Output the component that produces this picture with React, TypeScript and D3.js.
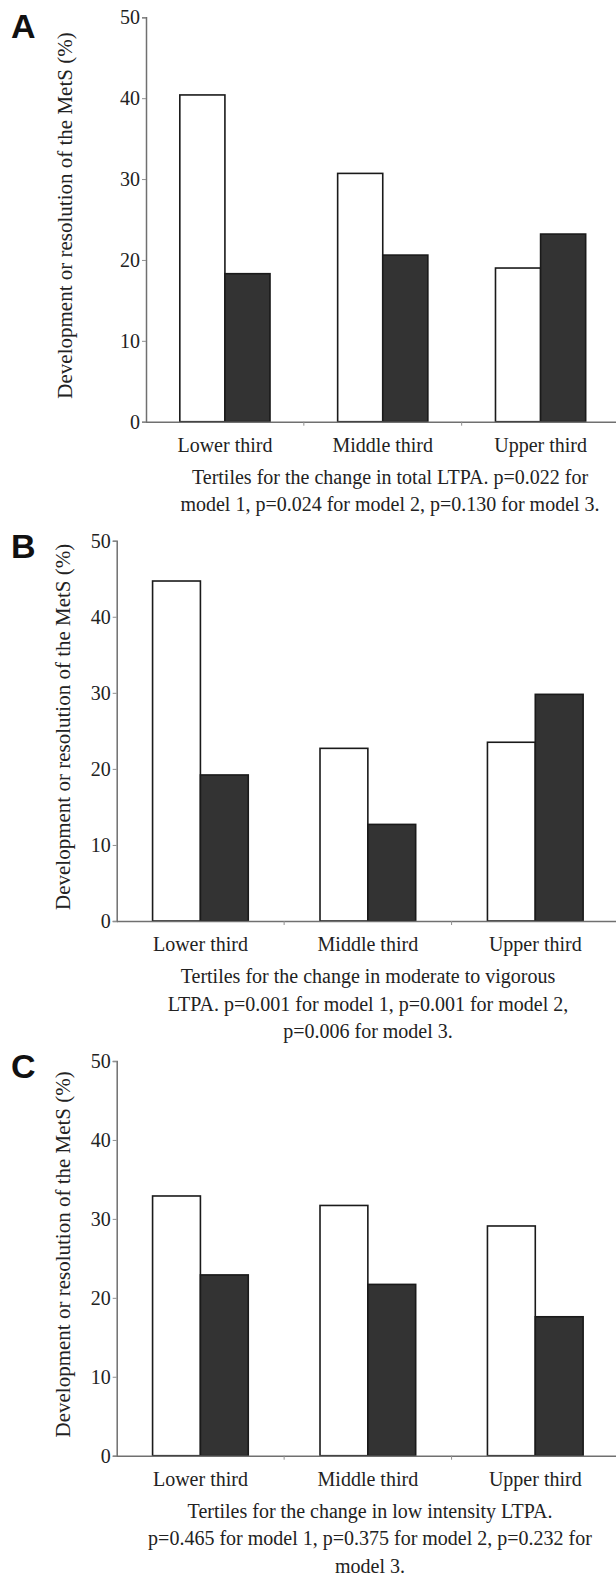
import React, { useEffect, useRef } from 'react';
import * as d3 from 'd3';

const categories = ['Lower third', 'Middle third', 'Upper third'];
const seriesKeys = ['open', 'filled'];
const yTicks = [0, 10, 20, 30, 40, 50];

const openA = [40.4, 30.7, 19.0];
const filledA = [18.3, 20.6, 23.2];
const openB = [44.7, 22.7, 23.5];
const filledB = [19.2, 12.7, 29.8];
const openC = [32.9, 31.7, 29.1];
const filledC = [22.9, 21.7, 17.6];

const yTitle = 'Development or resolution of the MetS (%)';
const captionA = [
  'Tertiles for the change in total LTPA. p=0.022 for',
  'model 1, p=0.024 for model 2, p=0.130 for model 3.',
];
const captionB = [
  'Tertiles for the change in moderate to vigorous',
  'LTPA. p=0.001 for model 1, p=0.001 for model 2,',
  'p=0.006 for model 3.',
];
const captionC = [
  'Tertiles for the change in low intensity LTPA.',
  'p=0.465 for model 1, p=0.375 for model 2, p=0.232 for',
  'model 3.',
];

const W = 616;
const H = 1576;
const serif = '"Liberation Serif", "Times New Roman", serif';

// where each panel sits on the page
const panels = [
  { letter: 'A', open: openA, filled: filledA, caption: captionA,
    left: 146, right: 619.5, top: 17.3, bottom: 421.7, letterY: 38, titleX: 65, capX: 390 },
  { letter: 'B', open: openB, filled: filledB, caption: captionB,
    left: 116.7, right: 619, top: 540.7, bottom: 921, letterY: 558, titleX: 63, capX: 368 },
  { letter: 'C', open: openC, filled: filledC, caption: captionC,
    left: 116.7, right: 619, top: 1061, bottom: 1455.7, letterY: 1078, titleX: 63, capX: 370 },
];

const App = () => {
  const svgRef = useRef(null);

  useEffect(() => {
    document.body.style.margin = '0';
    const svg = d3.select(svgRef.current);
    svg.selectAll('*').remove();
    svg.append('rect').attr('width', W).attr('height', H).attr('fill', '#fff');

    panels.forEach(p => {
      const g = svg.append('g');

      const x0 = d3.scaleBand()
        .domain(categories)
        .range([p.left, p.right])
        .padding(0);

      const x1 = d3.scaleBand()
        .domain(seriesKeys)
        .range([0, x0.bandwidth()])
        .paddingInner(0)
        .paddingOuter(0.75);

      const y = d3.scaleLinear()
        .domain([0, 50])
        .range([p.bottom, p.top]);

      const data = categories.map((c, i) => ({ cat: c, open: p.open[i], filled: p.filled[i] }));

      // bars
      g.append('g')
        .selectAll('g')
        .data(data)
        .enter()
        .append('g')
        .attr('transform', d => `translate(${x0(d.cat)},0)`)
        .selectAll('rect')
        .data(d => seriesKeys.map(key => ({ key, value: d[key] })))
        .enter()
        .append('rect')
        .attr('x', d => x1(d.key))
        .attr('y', d => y(d.value))
        .attr('width', x1.bandwidth())
        .attr('height', d => y(0) - y(d.value))
        .attr('fill', d => (d.key === 'open' ? '#ffffff' : '#333333'))
        .attr('stroke', '#1a1a1a')
        .attr('stroke-width', 1.6);

      // y axis
      const yAxis = g.append('g')
        .attr('transform', `translate(${p.left},0)`)
        .call(d3.axisLeft(y).tickValues(yTicks).tickSize(4).tickPadding(2).tickFormat(d3.format('d')));
      yAxis.select('.domain').attr('stroke', '#707070').attr('stroke-width', 1.5);
      yAxis.selectAll('.tick line').attr('stroke', '#909090').attr('stroke-width', 1);
      yAxis.selectAll('.tick text')
        .attr('font-family', serif)
        .attr('font-size', 20)
        .attr('fill', '#222');

      // x axis
      const xAxis = g.append('g')
        .attr('transform', `translate(0,${p.bottom})`)
        .call(d3.axisBottom(x0).tickSize(0).tickPadding(16));
      xAxis.select('.domain').attr('stroke', '#707070').attr('stroke-width', 1.5);
      xAxis.selectAll('.tick text')
        .attr('font-family', serif)
        .attr('font-size', 20)
        .attr('fill', '#222');
      // small ticks between categories
      g.append('g')
        .selectAll('line')
        .data(categories.slice(1))
        .enter()
        .append('line')
        .attr('x1', d => x0(d))
        .attr('x2', d => x0(d))
        .attr('y1', p.bottom)
        .attr('y2', p.bottom + 4)
        .attr('stroke', '#909090')
        .attr('stroke-width', 1);

      // axis title
      g.append('text')
        .attr('transform', `translate(${p.titleX},${(p.top + p.bottom) / 2 - 4}) rotate(-90)`)
        .attr('text-anchor', 'middle')
        .attr('dominant-baseline', 'central')
        .attr('font-family', serif)
        .attr('font-size', 21)
        .attr('fill', '#222')
        .text(yTitle);

      // panel letter
      g.append('text')
        .attr('x', 11)
        .attr('y', p.letterY)
        .attr('font-family', '"Liberation Sans", Arial, sans-serif')
        .attr('font-weight', 'bold')
        .attr('font-size', 34)
        .attr('fill', '#111')
        .text(p.letter);

      // caption under the axis
      g.append('g')
        .selectAll('text')
        .data(p.caption)
        .enter()
        .append('text')
        .attr('x', p.capX)
        .attr('y', (d, i) => p.bottom + 62 + i * 27.5)
        .attr('text-anchor', 'middle')
        .attr('font-family', serif)
        .attr('font-size', 20)
        .attr('fill', '#222')
        .text(d => d);
    });
  }, []);

  return (
    <div style={{ position: 'absolute', left: 0, top: 0 }}>
      <svg ref={svgRef} width={W} height={H} style={{ display: 'block' }}></svg>
    </div>
  );
};

export default App;
